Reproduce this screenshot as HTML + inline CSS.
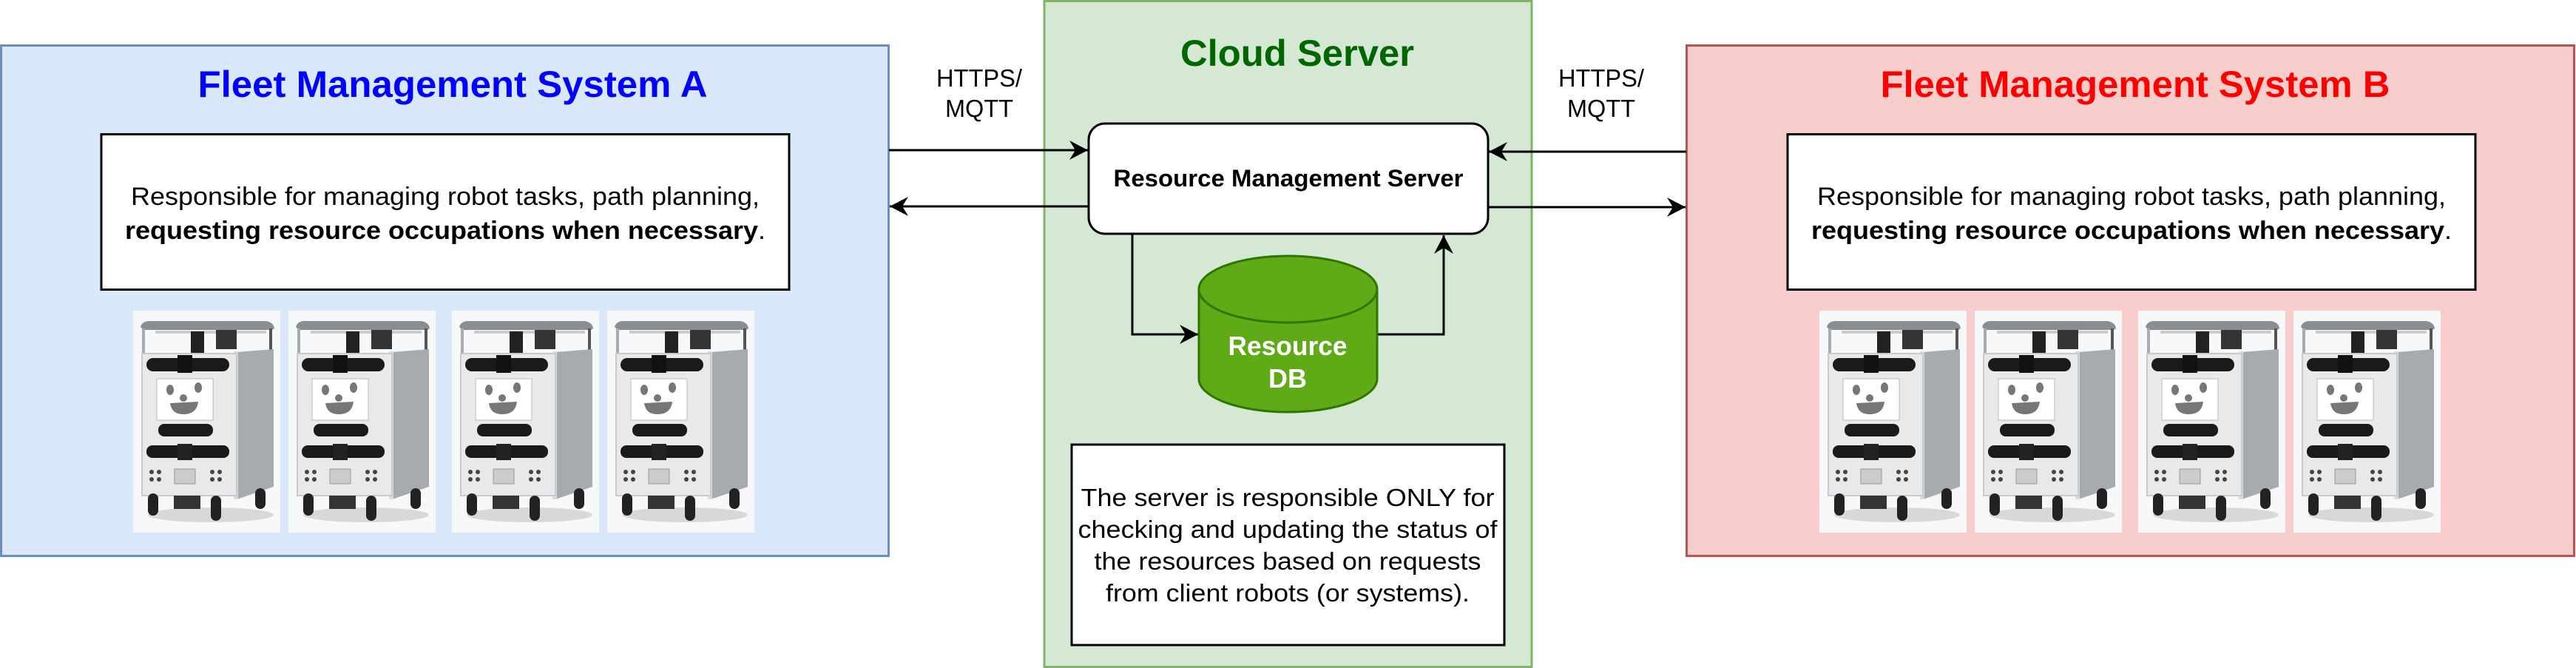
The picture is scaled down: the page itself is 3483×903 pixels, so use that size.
<!DOCTYPE html>
<html><head><meta charset="utf-8"><style>html,body{margin:0;padding:0;background:#fff;}svg{display:block;}</style></head>
<body>
<svg width="3483" height="903" viewBox="0 0 3483 903" xmlns="http://www.w3.org/2000/svg" font-family="Liberation Sans, Arial, sans-serif">
<defs>
<marker id="ah" markerWidth="26" markerHeight="28" refX="25" refY="14" orient="auto" markerUnits="userSpaceOnUse">
<path d="M0,1 L25,14 L0,27 L8,14 Z" fill="#000"/>
</marker>
<g id="robot">
<rect x="0" y="0" width="199" height="300" fill="#f7f8f9"/>
<ellipse cx="105" cy="276" rx="85" ry="10" fill="#d8d8d8"/>
<!-- top frame -->
<path d="M10,22 Q12,15 20,14 L180,14 Q190,16 191,24 L188,26 L14,26 Z" fill="#8a8e92"/>
<rect x="12" y="24" width="4" height="36" fill="#a8acb0"/>
<rect x="184" y="24" width="4" height="32" fill="#555"/>
<rect x="30" y="27" width="150" height="4" fill="#ccc"/>
<rect x="78" y="28" width="18" height="30" fill="#222"/>
<rect x="112" y="26" width="28" height="26" fill="#333"/>
<!-- side panel -->
<path d="M140,56 L190,52 L190,238 L140,255 Z" fill="#a7abb0"/>
<rect x="136" y="55" width="6" height="200" fill="#d8dbde"/>
<!-- front panel -->
<rect x="12" y="58" width="128" height="192" fill="#e8e9eb" stroke="#c8cacd" stroke-width="2"/>
<rect x="18" y="64" width="112" height="18" rx="9" fill="#1a1a1a"/>
<rect x="60" y="60" width="20" height="24" fill="#111"/>
<rect x="32" y="92" width="76" height="56" fill="#fff" stroke="#bbb"/>
<ellipse cx="50" cy="107" rx="5" ry="7" fill="#777"/><ellipse cx="88" cy="104" rx="5" ry="7" fill="#777"/><circle cx="68" cy="118" r="5" fill="#777"/>
<path d="M50,125 Q52,140 68,140 Q86,140 88,123 Z" fill="#777"/>
<rect x="34" y="153" width="74" height="17" rx="8" fill="#1a1a1a"/>
<rect x="18" y="182" width="112" height="17" rx="8" fill="#1a1a1a"/>
<rect x="60" y="180" width="20" height="22" fill="#222"/>
<rect x="56" y="214" width="28" height="20" fill="#ccc" stroke="#999"/>
<circle cx="25" cy="218" r="3" fill="#444"/><circle cx="35" cy="218" r="3" fill="#444"/><circle cx="25" cy="228" r="3" fill="#444"/><circle cx="35" cy="228" r="3" fill="#444"/>
<circle cx="107" cy="218" r="3" fill="#444"/><circle cx="117" cy="218" r="3" fill="#444"/><circle cx="107" cy="228" r="3" fill="#444"/><circle cx="117" cy="228" r="3" fill="#444"/>
<!-- wheels -->
<rect x="20" y="247" width="14" height="30" rx="7" fill="#222"/>
<rect x="55" y="250" width="36" height="18" fill="#333"/>
<rect x="105" y="250" width="14" height="34" rx="7" fill="#222"/>
<rect x="165" y="240" width="14" height="28" rx="7" fill="#222"/>
</g>
</defs>

<!-- Fleet A -->
<rect x="1.5" y="61.5" width="1200" height="690" fill="#dae8fc" stroke="#6c8ebf" stroke-width="3"/>
<text x="612" y="131" font-size="50" font-weight="bold" fill="#0000ff" text-anchor="middle" textLength="689" lengthAdjust="spacingAndGlyphs">Fleet Management System A</text>
<rect x="137" y="181.5" width="930" height="210" fill="#fff" stroke="#000" stroke-width="3"/>
<text x="602" y="277" font-size="34" text-anchor="middle" textLength="850" lengthAdjust="spacingAndGlyphs">Responsible for managing robot tasks, path planning,</text>
<text x="602" y="323" font-size="34" text-anchor="middle" textLength="866" lengthAdjust="spacingAndGlyphs"><tspan font-weight="bold">requesting resource occupations when necessary</tspan>.</text>
<use href="#robot" x="180" y="420"/>
<use href="#robot" x="390" y="420"/>
<use href="#robot" x="611" y="420"/>
<use href="#robot" x="821" y="420"/>

<!-- Fleet B -->
<rect x="2280.5" y="61.5" width="1200" height="690" fill="#f8cecc" stroke="#b85450" stroke-width="3"/>
<text x="2887" y="131" font-size="50" font-weight="bold" fill="#ff0000" text-anchor="middle" textLength="689" lengthAdjust="spacingAndGlyphs">Fleet Management System B</text>
<rect x="2417" y="181.5" width="930" height="210" fill="#fff" stroke="#000" stroke-width="3"/>
<text x="2882" y="277" font-size="34" text-anchor="middle" textLength="850" lengthAdjust="spacingAndGlyphs">Responsible for managing robot tasks, path planning,</text>
<text x="2882" y="323" font-size="34" text-anchor="middle" textLength="866" lengthAdjust="spacingAndGlyphs"><tspan font-weight="bold">requesting resource occupations when necessary</tspan>.</text>
<use href="#robot" x="2460" y="420"/>
<use href="#robot" x="2670" y="420"/>
<use href="#robot" x="2891" y="420"/>
<use href="#robot" x="3101" y="420"/>

<!-- Cloud -->
<rect x="1412" y="1.5" width="659" height="900" fill="#d5e8d4" stroke="#82b366" stroke-width="3"/>
<text x="1754" y="89" font-size="50" font-weight="bold" fill="#006600" text-anchor="middle" textLength="316" lengthAdjust="spacingAndGlyphs">Cloud Server</text>

<!-- labels -->
<text x="1324" y="117" font-size="33" text-anchor="middle" textLength="116" lengthAdjust="spacingAndGlyphs">HTTPS/</text>
<text x="1324" y="158" font-size="33" text-anchor="middle" textLength="92" lengthAdjust="spacingAndGlyphs">MQTT</text>
<text x="2165" y="117" font-size="33" text-anchor="middle" textLength="116" lengthAdjust="spacingAndGlyphs">HTTPS/</text>
<text x="2165" y="158" font-size="33" text-anchor="middle" textLength="92" lengthAdjust="spacingAndGlyphs">MQTT</text>

<!-- connectors -->
<g stroke="#000" stroke-width="3" fill="none">
<line x1="1202" y1="203" x2="1471" y2="203" marker-end="url(#ah)"/>
<line x1="1471" y1="279" x2="1203" y2="279" marker-end="url(#ah)"/>
<line x1="2280" y1="205" x2="2013" y2="205" marker-end="url(#ah)"/>
<line x1="2012" y1="280" x2="2279" y2="280" marker-end="url(#ah)"/>
<polyline points="1531,315 1531,452 1620,452" marker-end="url(#ah)"/>
<polyline points="1862,452 1952,452 1952,318" marker-end="url(#ah)"/>
</g>

<!-- RMS -->
<rect x="1472" y="167" width="540" height="149" rx="22" fill="#fff" stroke="#000" stroke-width="3"/>
<text x="1742" y="252" font-size="32" font-weight="bold" text-anchor="middle" textLength="473" lengthAdjust="spacingAndGlyphs">Resource Management Server</text>

<!-- DB -->
<path d="M1621,391 L1621,512 A120.5,45 0 0 0 1862,512 L1862,391" fill="#60a917" stroke="#2d7600" stroke-width="3"/>
<ellipse cx="1741.5" cy="391" rx="120.5" ry="45" fill="#60a917" stroke="#2d7600" stroke-width="3"/>
<text x="1741" y="480" font-size="36" font-weight="bold" fill="#fff" text-anchor="middle" textLength="161" lengthAdjust="spacingAndGlyphs">Resource</text>
<text x="1741" y="524" font-size="36" font-weight="bold" fill="#fff" text-anchor="middle">DB</text>

<!-- note -->
<rect x="1449" y="601" width="585" height="271" fill="#fff" stroke="#000" stroke-width="3"/>
<g font-size="33" text-anchor="middle">
<text x="1741" y="684" textLength="559" lengthAdjust="spacingAndGlyphs">The server is responsible ONLY for</text>
<text x="1741" y="727" textLength="567" lengthAdjust="spacingAndGlyphs">checking and updating the status of</text>
<text x="1741" y="770" textLength="523" lengthAdjust="spacingAndGlyphs">the resources based on requests</text>
<text x="1741" y="813" textLength="492" lengthAdjust="spacingAndGlyphs">from client robots (or systems).</text>
</g>
</svg>
</body></html>
